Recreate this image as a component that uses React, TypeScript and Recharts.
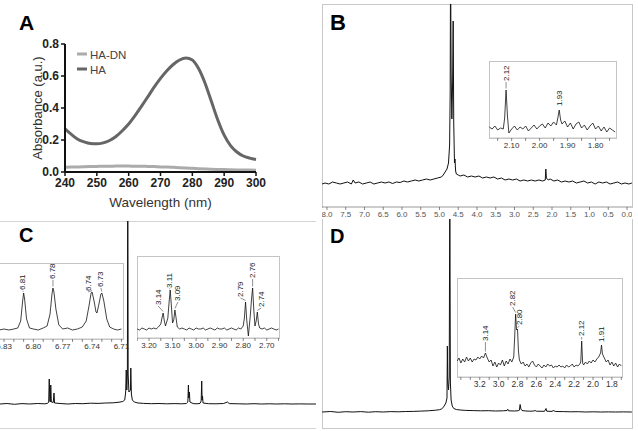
import React from 'react';
import { ComposedChart, LineChart, Line, XAxis, YAxis, Scatter, Label } from 'recharts';

type Pt = [number, number];
type Nudge = { dx?: number; gap?: number };

const FONT = '"Liberation Sans", Arial, Helvetica, sans-serif';

// ---------- Panel A: UV-Vis absorbance ----------
const wavelengths = [240, 242, 244, 246, 248, 250, 252, 254, 256, 258, 260, 262, 264, 266, 268, 270, 272, 274, 276, 278, 280, 282, 284, 286, 288, 290, 292, 294, 296, 298, 300];
const absHA = [0.27, 0.235, 0.205, 0.188, 0.178, 0.176, 0.182, 0.197, 0.222, 0.258, 0.3, 0.352, 0.41, 0.47, 0.53, 0.585, 0.633, 0.672, 0.7, 0.712, 0.7, 0.645, 0.555, 0.44, 0.325, 0.23, 0.165, 0.125, 0.1, 0.087, 0.078];
const absHADN = [0.03, 0.031, 0.032, 0.033, 0.034, 0.035, 0.036, 0.036, 0.037, 0.037, 0.037, 0.036, 0.036, 0.035, 0.034, 0.032, 0.031, 0.029, 0.027, 0.025, 0.023, 0.021, 0.019, 0.017, 0.016, 0.015, 0.014, 0.013, 0.012, 0.012, 0.011];
const wlTicks = [240, 250, 260, 270, 280, 290, 300];
const absTicks = [0, 0.2, 0.4, 0.6, 0.8];

// ---------- Panel B: 1H NMR of HA-DN ----------
const bMain: Pt[] = [
  [8.13, -1], [8.05, 0], [7.95, -1], [7.85, 1], [7.75, 0], [7.65, -1], [7.55, 0], [7.45, 1], [7.35, -1], [7.3, 3], [7.25, 0],
  [7.15, 1], [7.05, -1], [6.95, 0], [6.85, 1], [6.75, -1], [6.65, 0], [6.55, 1], [6.45, 0], [6.35, 1], [6.25, -0.5], [6.15, 1],
  [6.05, 0.5], [5.95, 2], [5.85, 1], [5.75, 2], [5.65, 3], [5.55, 2], [5.45, 3], [5.35, 4], [5.25, 3], [5.15, 4], [5.05, 5],
  [4.95, 6], [4.9, 8], [4.85, 11], [4.8, 14], [4.76, 20], [4.73, 38], [4.715, 90], [4.705, 230], [4.69, 110], [4.67, 64],
  [4.65, 100], [4.635, 162], [4.62, 60], [4.6, 20], [4.587, 24], [4.57, 12], [4.55, 9], [4.5, 8], [4.45, 7], [4.35, 8],
  [4.25, 6], [4.15, 7], [4.05, 6], [3.95, 7], [3.85, 5], [3.75, 6], [3.65, 5], [3.55, 6], [3.45, 4], [3.35, 5], [3.25, 3],
  [3.15, 4], [3.05, 3], [2.95, 4], [2.85, 2], [2.75, 3], [2.65, 2], [2.55, 3], [2.45, 2], [2.35, 3], [2.25, 2], [2.18, 3],
  [2.165, 14], [2.15, 5], [2.1, 3], [2.05, 4], [1.95, 2], [1.85, 3], [1.75, 1], [1.65, 2], [1.55, 1], [1.45, 2], [1.35, 0],
  [1.25, 1], [1.15, 2], [1.05, 0], [0.95, 1], [0.85, -1], [0.75, 1], [0.65, 0], [0.55, 1], [0.45, -1], [0.35, 0], [0.25, 1],
  [0.15, -1], [0.05, 0], [-0.05, -1], [-0.13, 0],
];
const bMainTicks = [8, 7.5, 7, 6.5, 6, 5.5, 5, 4.5, 4, 3.5, 3, 2.5, 2, 1.5, 1, 0.5, 0];

const bInset: Pt[] = [
  [2.18, 11], [2.17, 9], [2.16, 12], [2.15, 8], [2.14, 10], [2.13, 9], [2.125, 20], [2.12, 48], [2.115, 22], [2.11, 5],
  [2.1, 9], [2.09, 12], [2.08, 8], [2.07, 11], [2.06, 9], [2.05, 12], [2.04, 7], [2.03, 10], [2.02, 13], [2.01, 9],
  [2.0, 12], [1.99, 14], [1.98, 10], [1.97, 15], [1.96, 12], [1.95, 16], [1.94, 13], [1.935, 20], [1.93, 28], [1.925, 18],
  [1.92, 14], [1.91, 17], [1.9, 11], [1.89, 15], [1.88, 9], [1.87, 14], [1.86, 16], [1.85, 10], [1.84, 13], [1.83, 8],
  [1.82, 12], [1.81, 15], [1.8, 9], [1.79, 12], [1.78, 7], [1.77, 11], [1.76, 6], [1.75, 10], [1.74, 8], [1.73, 6],
];
const bInsetTicks = [2.15, 2.1, 2.05, 2.0, 1.95, 1.9, 1.85, 1.8, 1.75];
const bInsetLabels = [2.1, 2.0, 1.9, 1.8];
const bInsetPeaks = [2.12, 1.93];

// ---------- Panel C: 1H NMR of dopamine ----------
const cMain: Pt[] = [
  [8.08, 0], [7.9, 0.5], [7.7, -0.3], [7.5, 0.4], [7.3, 0], [7.1, 0.5], [6.9, 0.2], [6.83, 0.6], [6.8, 2], [6.785, 25],
  [6.77, 3], [6.755, 2], [6.745, 19], [6.73, 2], [6.68, 1.5], [6.66, 11], [6.645, 1], [6.5, 0.5], [6.3, 0], [6.1, 0.5],
  [5.9, 0.3], [5.7, 0.8], [5.5, 0.6], [5.3, 1], [5.1, 1.2], [4.95, 1.8], [4.85, 2.5], [4.8, 4], [4.775, 12], [4.76, 34],
  [4.745, 14], [4.73, 30], [4.72, 250], [4.71, 30], [4.69, 12], [4.65, 14], [4.64, 36], [4.625, 10], [4.6, 4], [4.55, 2],
  [4.45, 1], [4.3, 0.6], [4.1, 0.3], [3.9, 0.5], [3.7, 0.2], [3.5, 0.4], [3.3, 0.2], [3.18, 0.5], [3.14, 2], [3.125, 19],
  [3.115, 6], [3.1, 12], [3.085, 2], [3.0, 0.4], [2.9, 0.2], [2.82, 0.6], [2.79, 3], [2.775, 23], [2.765, 4], [2.755, 8],
  [2.74, 1], [2.6, 0.3], [2.4, 0.2], [2.2, 0.5], [2.1, 2], [2.05, 0.4], [1.8, 0.2], [1.6, 0], [1.4, 0.3], [1.2, 0],
  [1.0, 0.2], [0.8, 0], [0.6, 0.2], [0.4, 0], [0.2, 0.1], [0, 0], [-0.23, 0],
];

const cAromatic: Pt[] = [
  [6.85, 9], [6.845, 10], [6.84, 8], [6.835, 9], [6.83, 10], [6.825, 9], [6.82, 10], [6.816, 11], [6.813, 18], [6.811, 38],
  [6.81, 46], [6.809, 40], [6.807, 20], [6.804, 11], [6.8, 10], [6.795, 9], [6.79, 11], [6.786, 13], [6.783, 25], [6.781, 45],
  [6.78, 51], [6.779, 47], [6.777, 30], [6.774, 14], [6.77, 10], [6.765, 11], [6.76, 9], [6.755, 10], [6.75, 12], [6.746, 18],
  [6.743, 34], [6.741, 46], [6.74, 47], [6.738, 38], [6.736, 27], [6.735, 26], [6.733, 35], [6.731, 45], [6.73, 46], [6.728, 38],
  [6.725, 20], [6.722, 12], [6.718, 10], [6.714, 9], [6.71, 10],
];
const cAromaticTicks = [6.85, 6.84, 6.83, 6.82, 6.81, 6.8, 6.79, 6.78, 6.77, 6.76, 6.75, 6.74, 6.73, 6.72, 6.71];
const cAromaticLabels = [6.83, 6.8, 6.77, 6.74, 6.71];
const cAromaticPeaks = [6.81, 6.78, 6.74, 6.73];

const cAliphatic: Pt[] = [
  [3.25, 9], [3.24, 8], [3.23, 10], [3.22, 9], [3.21, 8], [3.2, 10], [3.19, 9], [3.18, 10], [3.17, 9], [3.16, 11], [3.15, 14],
  [3.145, 20], [3.14, 25], [3.135, 17], [3.13, 12], [3.12, 20], [3.115, 35], [3.11, 48], [3.105, 32], [3.1, 15], [3.095, 18],
  [3.09, 28], [3.085, 20], [3.08, 11], [3.07, 9], [3.06, 10], [3.05, 9], [3.04, 8], [3.03, 10], [3.02, 9], [3.01, 8], [3.0, 10],
  [2.99, 9], [2.98, 9], [2.97, 10], [2.96, 8], [2.95, 9], [2.94, 10], [2.93, 9], [2.92, 8], [2.91, 10], [2.9, 9], [2.89, 9],
  [2.88, 10], [2.87, 8], [2.86, 9], [2.85, 10], [2.84, 9], [2.83, 8], [2.82, 10], [2.81, 9], [2.8, 12], [2.795, 20], [2.79, 36],
  [2.785, 18], [2.778, 2], [2.77, 22], [2.765, 38], [2.76, 50], [2.755, 28], [2.75, 12], [2.745, 17], [2.74, 26], [2.735, 14],
  [2.73, 10], [2.72, 9], [2.71, 10], [2.7, 8], [2.69, 9], [2.68, 10], [2.67, 9], [2.66, 8], [2.65, 9],
];
const cAliphaticTicks = [3.25, 3.2, 3.15, 3.1, 3.05, 3.0, 2.95, 2.9, 2.85, 2.8, 2.75, 2.7, 2.65];
const cAliphaticLabels = [3.2, 3.1, 3.0, 2.9, 2.8, 2.7];
const cAliphaticPeaks = [3.14, 3.11, 3.09, 2.79, 2.76, 2.74];

// ---------- Panel D: 1H NMR of the conjugate ----------
const dMain: Pt[] = [
  [8.13, 0], [7.9, 0.5], [7.7, -0.3], [7.5, 0.3], [7.3, 0], [7.1, 0.4], [6.9, -0.2], [6.7, 0.3], [6.5, 0], [6.3, 0.4],
  [6.1, 0.2], [5.9, 0.5], [5.7, 0.6], [5.5, 0.9], [5.3, 1.2], [5.1, 1.8], [5.0, 2.3], [4.95, 3], [4.9, 4.5], [4.86, 7],
  [4.83, 9], [4.8, 14], [4.79, 66], [4.78, 30], [4.76, 22], [4.74, 35], [4.725, 240], [4.71, 30], [4.69, 12], [4.66, 6],
  [4.62, 3.5], [4.55, 2.5], [4.45, 2], [4.3, 1.6], [4.1, 1.4], [3.9, 1.2], [3.7, 1.3], [3.5, 1], [3.3, 1.2], [3.2, 1.5],
  [3.18, 2.8], [3.16, 1.2], [3.0, 1], [2.9, 1.3], [2.87, 1.8], [2.85, 7.5], [2.83, 3], [2.8, 1.5], [2.7, 1], [2.6, 0.8],
  [2.5, 0.9], [2.45, 1.5], [2.42, 0.8], [2.2, 0.7], [2.16, 3.5], [2.14, 0.8], [2.0, 0.6], [1.97, 1.5], [1.9, 0.5], [1.7, 0.4],
  [1.5, 0.2], [1.3, 0.3], [1.1, 0], [0.9, 0.2], [0.7, 0], [0.5, 0.1], [0.3, 0], [0.1, 0.1], [-0.13, 0],
];

const dInset: Pt[] = [
  [3.44, 16], [3.42, 19], [3.4, 14], [3.38, 18], [3.36, 15], [3.34, 20], [3.32, 16], [3.3, 19], [3.28, 15], [3.26, 18],
  [3.24, 17], [3.22, 20], [3.2, 18], [3.18, 21], [3.16, 19], [3.14, 24], [3.12, 19], [3.1, 15], [3.08, 17], [3.06, 11],
  [3.04, 15], [3.02, 10], [3.0, 14], [2.98, 12], [2.96, 17], [2.94, 11], [2.92, 16], [2.9, 13], [2.88, 18], [2.86, 15],
  [2.84, 20], [2.83, 40], [2.82, 63], [2.81, 47], [2.8, 48], [2.79, 26], [2.78, 17], [2.76, 13], [2.74, 15], [2.72, 11],
  [2.7, 13], [2.68, 10], [2.66, 14], [2.64, 16], [2.62, 12], [2.6, 10], [2.58, 13], [2.56, 11], [2.54, 9], [2.52, 12],
  [2.5, 10], [2.48, 13], [2.46, 11], [2.44, 12], [2.42, 9], [2.4, 11], [2.38, 10], [2.36, 12], [2.34, 10], [2.32, 11],
  [2.3, 9], [2.28, 12], [2.26, 10], [2.24, 11], [2.22, 13], [2.2, 10], [2.18, 12], [2.16, 11], [2.14, 13], [2.13, 15],
  [2.12, 36], [2.11, 14], [2.1, 12], [2.08, 15], [2.06, 13], [2.04, 16], [2.02, 14], [2.0, 17], [1.98, 15], [1.96, 18],
  [1.94, 20], [1.92, 24], [1.91, 32], [1.9, 23], [1.88, 19], [1.86, 15], [1.84, 17], [1.82, 12], [1.8, 15], [1.78, 11],
  [1.76, 14], [1.74, 10], [1.72, 13], [1.7, 11],
];
const dInsetTicks = [3.4, 3.3, 3.2, 3.1, 3.0, 2.9, 2.8, 2.7, 2.6, 2.5, 2.4, 2.3, 2.2, 2.1, 2.0, 1.9, 1.8, 1.7];
const dInsetLabels = [3.2, 3.0, 2.8, 2.6, 2.4, 2.2, 2.0, 1.8];
const dInsetPeaks = [3.14, 2.82, 2.8, 2.12, 1.91];

// Where each rotated peak tag sits relative to its peak top
const tagPlacement: Record<string, Nudge> = {
  'b:2.12': { gap: 9 }, 'b:1.93': { gap: 4 },
  'c1:6.81': { dx: -1, gap: 3 }, 'c1:6.78': { gap: 9 }, 'c1:6.74': { dx: -4, gap: 1 }, 'c1:6.73': { dx: -1, gap: 6 },
  'c2:3.14': { dx: -5, gap: 8 }, 'c2:3.11': { dx: -1, gap: 2 }, 'c2:3.09': { dx: 3, gap: 9 },
  'c2:2.79': { dx: -5, gap: 5 }, 'c2:2.76': { gap: 10 }, 'c2:2.74': { dx: 4, gap: 5 },
  'd:3.14': { gap: 12 }, 'd:2.82': { dx: -3, gap: 8 }, 'd:2.80': { dx: 2, gap: 4 }, 'd:2.12': { gap: 5 }, 'd:1.91': { gap: 3 },
};

function PeakTag(props: any) {
  const { cx, cy, payload, nudge } = props;
  if (cx == null || cy == null) return <g />;
  const dx = nudge?.dx ?? 0;
  const gap = nudge?.gap ?? 4;
  const tx = cx + dx;
  const ty = cy - gap;
  const linked = gap >= 5 || dx !== 0;
  return (
    <g>
      {linked && <line x1={tx} y1={ty + 1} x2={cx} y2={cy - 1.5} stroke="#444" strokeWidth={0.6} />}
      <text x={tx} y={ty} transform={`rotate(-90 ${tx} ${ty})`} fontSize={8} fill="#222" fontFamily={FONT} dominantBaseline="central">
        {payload.label}
      </text>
    </g>
  );
}

interface SpectrumProps {
  id?: string;
  left: number;
  top: number;
  width: number;
  plotHeight: number;
  padRight?: number;
  xDomain: [number, number];
  yDomain: [number, number];
  points: Pt[];
  ticks?: number[];
  majors?: number[];
  digits?: number;
  peaks?: number[];
  clip?: boolean;
  stroke?: number;
  axisColor?: string;
  tickFont?: number;
  tickColor?: string;
}

function Spectrum(p: SpectrumProps) {
  const rows = p.points.map(([x, y]) => ({ x, y }));
  const peakRows = (p.peaks ?? []).map((ppm) => {
    const hit = p.points.find(([x]) => Math.abs(x - ppm) < 1e-6);
    return { x: ppm, y: hit ? hit[1] : 0, label: ppm.toFixed(2) };
  });
  const showAxis = !!p.ticks;
  const axisH = showAxis ? 18 : 0;
  const pad = p.padRight ?? 0;
  const isMajor = (v: number) => (p.majors ?? []).some((m) => Math.abs(m - v) < 1e-6);
  return (
    <div style={{ position: 'absolute', left: p.left, top: p.top }}>
      <ComposedChart width={p.width + pad} height={p.plotHeight + axisH} data={rows} margin={{ top: 0, right: pad, bottom: 0, left: 0 }}>
        <XAxis
          dataKey="x"
          type="number"
          domain={p.xDomain}
          reversed
          allowDataOverflow={!!p.clip}
          hide={!showAxis}
          height={axisH}
          ticks={p.ticks}
          interval={0}
          tickFormatter={(v: number) => (isMajor(v) ? v.toFixed(p.digits ?? 2) : '')}
          axisLine={{ stroke: p.axisColor ?? '#bbb' }}
          tickLine={{ stroke: '#555', strokeWidth: 0.7 }}
          tickSize={3}
          tickMargin={1}
          tick={{ fontSize: p.tickFont ?? 8, fill: p.tickColor ?? '#333', fontFamily: FONT }}
        />
        <YAxis type="number" domain={p.yDomain} allowDataOverflow={!!p.clip} hide width={0} />
        <Line dataKey="y" type="linear" dot={false} activeDot={false} stroke="#111" strokeWidth={p.stroke ?? 0.9} isAnimationActive={false} />
        {peakRows.length > 0 && (
          <Scatter
            data={peakRows}
            dataKey="y"
            isAnimationActive={false}
            shape={(s: any) => <PeakTag {...s} nudge={tagPlacement[`${p.id}:${s.payload.label}`]} />}
          />
        )}
      </ComposedChart>
    </div>
  );
}

function Box({ left, top, width, height, color = '#c4c4c4', fill = '#fff', sides = 'trbl' }: any) {
  const b = `1px solid ${color}`;
  return (
    <div
      style={{
        position: 'absolute', left, top, width, height, boxSizing: 'border-box', background: fill,
        borderTop: sides.includes('t') ? b : 'none', borderRight: sides.includes('r') ? b : 'none',
        borderBottom: sides.includes('b') ? b : 'none', borderLeft: sides.includes('l') ? b : 'none',
      }}
    />
  );
}

function AbsorbancePanel() {
  const rows = wavelengths.map((w, i) => ({ w, ha: absHA[i], hadn: absHADN[i] }));
  const axisStroke = { stroke: '#111', strokeWidth: 2 };
  const tickStyle = { fontSize: 12, fontWeight: 'bold', fill: '#222', fontFamily: FONT };
  return (
    <div style={{ position: 'absolute', left: 0, top: 0 }}>
      <LineChart width={310} height={215} data={rows} margin={{ top: 44, right: 54, bottom: 5, left: 0 }}>
        <XAxis dataKey="w" type="number" domain={[240, 300]} ticks={wlTicks} interval={0} height={38}
          axisLine={axisStroke} tickLine={{ stroke: '#111', strokeWidth: 1.5 }} tickSize={4} tick={tickStyle}>
          <Label value="Wavelength (nm)" position="insideBottom" offset={3} fontSize={13.5} fill="#333" fontFamily={FONT} />
        </XAxis>
        <YAxis type="number" domain={[0, 0.8]} ticks={absTicks} interval={0} width={65} tickFormatter={(v: number) => v.toFixed(1)}
          axisLine={axisStroke} tickLine={{ stroke: '#111', strokeWidth: 1.5 }} tickSize={4} tick={tickStyle}>
          <Label value="Absorbance (a.u.)" angle={-90} position="insideLeft" offset={37} fontSize={13} fill="#333" fontFamily={FONT}
            style={{ textAnchor: 'middle' }} />
        </YAxis>
        <Line dataKey="hadn" type="monotone" stroke="#ababab" strokeWidth={3} dot={false} activeDot={false} isAnimationActive={false} />
        <Line dataKey="ha" type="monotone" stroke="#666" strokeWidth={3} dot={false} activeDot={false} isAnimationActive={false} />
      </LineChart>
    </div>
  );
}

export default function App() {
  return (
    <div style={{ position: 'fixed', left: 0, top: 0, width: 638, height: 431, background: '#fff', overflow: 'hidden', fontFamily: FONT }}>
      <AbsorbancePanel />

      {/* B */}
      <Box left={322} top={4} width={311} height={204} sides="trl" color="#c8c8c8" />
      <Spectrum left={322} top={4} width={310} plotHeight={203} xDomain={[-0.133, 8.133]} yDomain={[-24, 179]} points={bMain}
        ticks={bMainTicks} majors={bMainTicks} digits={1} clip axisColor="#999" tickColor="#555" stroke={1} />
      <Box left={489} top={61} width={128} height={78} />
      <Spectrum id="b" left={489} top={61} width={127} plotHeight={77} xDomain={[1.727, 2.181]} yDomain={[0, 77]} points={bInset}
        ticks={bInsetTicks} majors={bInsetLabels} digits={2} peaks={bInsetPeaks} stroke={0.8} axisColor="#c4c4c4" />

      {/* C */}
      <Box left={0} top={221} width={316} height={208} sides="tb" color="#d4d4d4" fill="transparent" />
      <Spectrum left={0} top={221} width={316} plotHeight={207} xDomain={[-0.23, 8.08]} yDomain={[-24, 183]} points={cMain} clip stroke={1} />
      <Box left={-20} top={263} width={144} height={77} />
      <Spectrum id="c1" left={-20} top={263} width={143} padRight={12} plotHeight={76} xDomain={[6.7084, 6.8546]} yDomain={[0, 76]} points={cAromatic}
        ticks={cAromaticTicks} majors={cAromaticLabels} digits={2} peaks={cAromaticPeaks} stroke={0.8} axisColor="#c4c4c4" />
      <Box left={137} top={256} width={143} height={83} />
      <Spectrum id="c2" left={137} top={256} width={142} plotHeight={82} xDomain={[2.648, 3.251]} yDomain={[0, 82]} points={cAliphatic}
        ticks={cAliphaticTicks} majors={cAliphaticLabels} digits={2} peaks={cAliphaticPeaks} stroke={0.8} axisColor="#c4c4c4" />

      {/* D */}
      <Box left={322} top={219} width={311} height={210} sides="rbl" color="#c8c8c8" fill="transparent" />
      <Spectrum left={322} top={219} width={310} plotHeight={209} xDomain={[-0.133, 8.133]} yDomain={[-16, 193]} points={dMain} clip stroke={1} />
      <Box left={457} top={278} width={166} height={100} />
      <Spectrum id="d" left={457} top={278} width={165} plotHeight={99} xDomain={[1.693, 3.441]} yDomain={[0, 99]} points={dInset}
        ticks={dInsetTicks} majors={dInsetLabels} digits={1} peaks={dInsetPeaks} stroke={0.8} axisColor="#c4c4c4" tickFont={8.5} />

      {/* panel letters and legend */}
      <svg width={638} height={431} style={{ position: 'absolute', left: 0, top: 0, pointerEvents: 'none' }}>
        <g fontFamily={FONT} fontWeight="bold" fill="#000">
          <text x={19} y={30} fontSize={21}>A</text>
          <text x={330} y={30} fontSize={22}>B</text>
          <text x={19} y={242} fontSize={20}>C</text>
          <text x={330} y={243} fontSize={20}>D</text>
        </g>
        <line x1={77} x2={87} y1={54} y2={54} stroke="#ababab" strokeWidth={3} />
        <text x={90} y={58.5} fontSize={11.5} fill="#444" fontFamily={FONT}>HA-DN</text>
        <line x1={77} x2={87} y1={69} y2={69} stroke="#666" strokeWidth={3} />
        <text x={90} y={73.5} fontSize={11.5} fill="#444" fontFamily={FONT}>HA</text>
      </svg>
    </div>
  );
}
